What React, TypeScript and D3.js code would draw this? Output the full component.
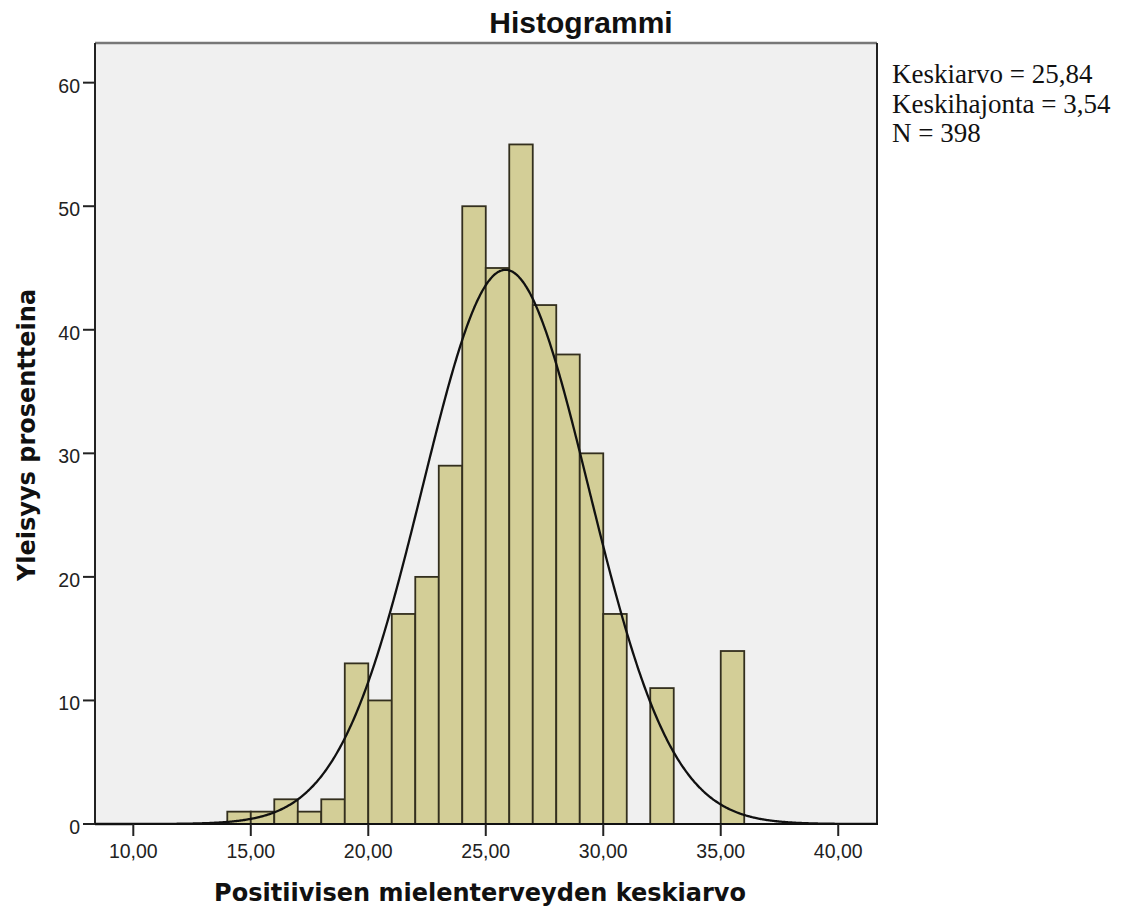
import React from 'react';
import * as d3 from 'd3';

// histogram bins (width 1) and counts
const binStarts = [14, 15, 16, 17, 18, 19, 20, 21, 22, 23, 24, 25, 26, 27, 28, 29, 30, 31, 32, 33, 34, 35];
const binCounts = [1, 1, 2, 1, 2, 13, 10, 17, 20, 29, 50, 45, 55, 42, 38, 30, 17, 0, 11, 0, 0, 14];
const xTicks = [10, 15, 20, 25, 30, 35, 40];
const yTicks = [0, 10, 20, 30, 40, 50, 60];
const statLines = ['Keskiarvo = 25,84', 'Keskihajonta = 3,54', 'N = 398'];
const mean = 25.84;
const sd = 3.54;
const n = 398;

const W = 1123;
const H = 913;

export default function App() {
  const left = 95, right = 877, top = 43, bottom = 824;

  const x = d3.scaleLinear().domain([8.37, 41.65]).range([left, right]);
  const y = d3.scaleLinear().domain([0, 63.21]).range([bottom, top]);

  const bins = binStarts.map((s, i) => ({ x0: s, x1: s + 1, count: binCounts[i] })).filter(b => b.count > 0);

  // fitted normal curve, scaled to counts per unit bin
  const pdf = (v: number) => (n / (sd * Math.sqrt(2 * Math.PI))) * Math.exp(-0.5 * ((v - mean) / sd) ** 2);
  const curvePts = d3.range(8.37, 41.66, 0.05).map(v => [v, pdf(v)] as [number, number]);
  const line = d3.line<[number, number]>().x(d => x(d[0])).y(d => y(d[1])).curve(d3.curveBasis);

  const fmt = (v: number) => v.toFixed(2).replace('.', ',');

  return (
    <svg width={W} height={H} style={{ position: 'absolute', left: 0, top: 0, background: '#fff' }}>
      <rect x={left} y={top} width={right - left} height={bottom - top} fill="#f0f0f0" />

      {bins.map((b, i) => (
        <rect key={i} x={x(b.x0)} y={y(b.count)} width={x(b.x1) - x(b.x0)} height={y(0) - y(b.count)}
          fill="#d3ce97" stroke="#332f1e" strokeWidth={1.8} />
      ))}

      <path d={line(curvePts) || ''} fill="none" stroke="#111" strokeWidth={2.3} />

      {/* frame */}
      <line x1={left} x2={right} y1={top} y2={top} stroke="#777" strokeWidth={2.5} />
      <line x1={right} x2={right} y1={top} y2={bottom} stroke="#222" strokeWidth={2} />
      <line x1={left} x2={left} y1={top} y2={bottom} stroke="#222" strokeWidth={2} />
      <line x1={left - 1} x2={right + 1} y1={bottom} y2={bottom} stroke="#111" strokeWidth={2} />

      {yTicks.map(t => (
        <g key={t}>
          <line x1={left - 12} x2={left} y1={y(t)} y2={y(t)} stroke="#222" strokeWidth={2} />
          <text x={80} y={y(t) + 10} textAnchor="end" fontFamily="Liberation Sans, Arial, sans-serif" fontSize={19.5} fill="#222">{t}</text>
        </g>
      ))}

      {xTicks.map(t => (
        <g key={t}>
          <line x1={x(t)} x2={x(t)} y1={bottom} y2={bottom + 12} stroke="#222" strokeWidth={2} />
          <text x={x(t)} y={858} textAnchor="middle" fontFamily="Liberation Sans, Arial, sans-serif" fontSize={19.5} fill="#222">{fmt(t)}</text>
        </g>
      ))}

      <text x={581} y={33} textAnchor="middle" fontFamily="Liberation Sans, Arial, sans-serif" fontWeight="bold" fontSize={30} fill="#111">Histogrammi</text>

      <text x={480} y={901} textAnchor="middle" fontFamily="DejaVu Sans, Verdana, sans-serif" fontWeight="bold" fontSize={24} fill="#111">Positiivisen mielenterveyden keskiarvo</text>

      <text transform="translate(35,435) rotate(-90)" textAnchor="middle" fontFamily="DejaVu Sans, Verdana, sans-serif" fontWeight="bold" fontSize={24} fill="#111">Yleisyys prosentteina</text>

      {statLines.map((s, i) => (
        <text key={i} x={892} y={83 + i * 29.5} fontFamily="Liberation Serif, Times New Roman, serif" fontSize={27} fill="#111">{s}</text>
      ))}
    </svg>
  );
}
